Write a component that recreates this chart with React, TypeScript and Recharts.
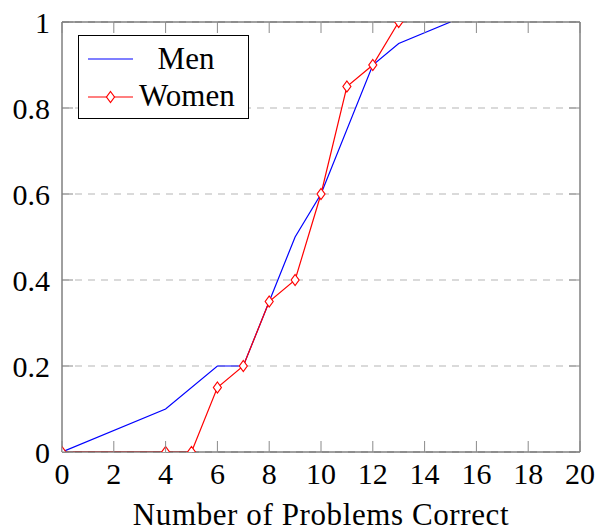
import {
  LineChart,
  Line,
  XAxis,
  YAxis,
  CartesianGrid,
  Legend,
} from "recharts";

const menProblems = [0, 4, 6, 7, 8, 9, 10, 12, 13, 15];
const menShare = [0, 0.1, 0.2, 0.2, 0.35, 0.5, 0.6, 0.9, 0.95, 1];
const womenProblems = [0, 4, 5, 6, 7, 8, 9, 10, 11, 12, 13];
const womenShare = [0, 0, 0, 0.15, 0.2, 0.35, 0.4, 0.6, 0.85, 0.9, 1];
const xTicks = [0, 2, 4, 6, 8, 10, 12, 14, 16, 18, 20];
const yTicks = [0, 0.2, 0.4, 0.6, 0.8, 1];

const menData = menProblems.map((x, i) => ({ x, y: menShare[i] }));
const womenData = womenProblems.map((x, i) => ({ x, y: womenShare[i] }));

const FONT = "Liberation Serif, Times New Roman, serif";
const FS = 30;
const TICK = 11;
const TICK_COLOR = "#8a8a8a";
const FRAME = "#404040";

const BottomTick = ({ x, y, payload }: any) => (
  <g>
    <line x1={x} y1={y} x2={x} y2={y - TICK} stroke={TICK_COLOR} />
    <text x={x} y={y + 32} textAnchor="middle" fontFamily={FONT} fontSize={FS} fill="#000">
      {payload.value}
    </text>
  </g>
);

const TopTick = ({ x, y }: any) => (
  <line x1={x} y1={y} x2={x} y2={y + TICK} stroke={TICK_COLOR} />
);

const LeftTick = ({ x, y, payload }: any) => (
  <g>
    <line x1={x} y1={y} x2={x + TICK} y2={y} stroke={TICK_COLOR} />
    <text x={x - 12} y={y + 11} textAnchor="end" fontFamily={FONT} fontSize={FS} fill="#000">
      {String(payload.value)}
    </text>
  </g>
);

const RightTick = ({ x, y }: any) => (
  <line x1={x} y1={y} x2={x - TICK} y2={y} stroke={TICK_COLOR} />
);

const Diamond = ({ cx, cy }: any) => {
  if (cx == null || cy == null) return null;
  return (
    <path
      d={`M${cx},${cy - 5.5}L${cx + 4},${cy}L${cx},${cy + 5.5}L${cx - 4},${cy}Z`}
      fill="#fff"
      stroke="#ff0000"
      strokeWidth={1.2}
    />
  );
};

const LegendBox = () => (
  <div
    style={{
      border: "1px solid #000",
      background: "#fff",
      width: 169,
      height: 82,
    }}
  >
    <svg width={169} height={82} style={{ display: "block" }}>
      <line x1={9} y1={23} x2={54} y2={23} stroke="#0000ff" strokeWidth={1.2} />
      <text x={107} y={33} textAnchor="middle" fontFamily={FONT} fontSize={31}>
        Men
      </text>
      <line x1={9} y1={61} x2={54} y2={61} stroke="#ff0000" strokeWidth={1.2} />
      <Diamond cx={31.5} cy={61} />
      <text x={60} y={70} fontFamily={FONT} fontSize={31}>
        Women
      </text>
    </svg>
  </div>
);

export default function App() {
  return (
    <div style={{ position: "absolute", left: 0, top: 0 }}>
      <LineChart
        width={597}
        height={531}
        margin={{ top: 0, right: 0, bottom: 0, left: 0 }}
      >
        <CartesianGrid
          vertical={false}
          stroke="#b5b5b5"
          strokeDasharray="7 6"
        />
        <XAxis
          dataKey="x"
          type="number"
          domain={[0, 20]}
          ticks={xTicks}
          allowDataOverflow
          height={79}
          tickSize={0}
          tickMargin={0}
          tickLine={false}
          axisLine={{ stroke: FRAME }}
          tick={BottomTick}
          interval={0}
          label={{
            value: "Number of Problems Correct",
            position: "insideBottom",
            offset: 6,
            fontFamily: FONT,
            fontSize: 31,
            letterSpacing: 0.6,
            fill: "#000",
          }}
        />
        <XAxis
          xAxisId="top"
          orientation="top"
          dataKey="x"
          type="number"
          domain={[0, 20]}
          ticks={xTicks}
          allowDataOverflow
          height={22}
          tickSize={0}
          tickMargin={0}
          tickLine={false}
          axisLine={{ stroke: FRAME }}
          tick={TopTick}
          interval={0}
        />
        <YAxis
          type="number"
          domain={[0, 1]}
          ticks={yTicks}
          allowDataOverflow
          width={62}
          tickSize={0}
          tickMargin={0}
          tickLine={false}
          axisLine={{ stroke: FRAME }}
          tick={LeftTick}
          interval={0}
        />
        <YAxis
          yAxisId="right"
          orientation="right"
          type="number"
          domain={[0, 1]}
          ticks={yTicks}
          allowDataOverflow
          width={17}
          tickSize={0}
          tickMargin={0}
          tickLine={false}
          axisLine={{ stroke: FRAME }}
          tick={RightTick}
          interval={0}
        />
        <Legend
          layout="horizontal"
          verticalAlign="middle"
          align="center"
          content={<LegendBox />}
          wrapperStyle={{ top: 35, left: 78, width: 171, height: 84 }}
        />
        <Line
          data={menData}
          dataKey="y"
          name="Men"
          type="linear"
          stroke="#0000ff"
          strokeWidth={1.2}
          dot={false}
          activeDot={false}
          isAnimationActive={false}
        />
        <Line
          data={womenData}
          dataKey="y"
          name="Women"
          type="linear"
          stroke="#ff0000"
          strokeWidth={1.2}
          dot={<Diamond />}
          activeDot={false}
          isAnimationActive={false}
        />
      </LineChart>
    </div>
  );
}
